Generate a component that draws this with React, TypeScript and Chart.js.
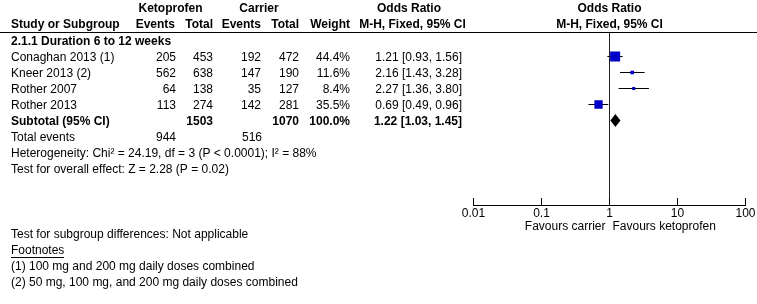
import React, { useEffect, useRef } from "react";
import { Chart, registerables } from "chart.js";

Chart.register(...registerables);

// ---------- data ----------
const groupTitle = "2.1.1 Duration 6 to 12 weeks";
const studies = ["Conaghan 2013 (1)", "Kneer 2013 (2)", "Rother 2007", "Rother 2013"];
const ketoEvents = [205, 562, 64, 113];
const ketoTotal = [453, 638, 138, 274];
const carrierEvents = [192, 147, 35, 142];
const carrierTotal = [472, 190, 127, 281];
const weights = [44.4, 11.6, 8.4, 35.5];
const oddsRatio = [1.21, 2.16, 2.27, 0.69];
const ciLow = [0.93, 1.43, 1.36, 0.49];
const ciHigh = [1.56, 3.28, 3.8, 0.96];

const subtotalKetoTotal = 1503;
const subtotalCarrierTotal = 1070;
const subtotalWeight = 100.0;
const subtotalOR = 1.22;
const subtotalLow = 1.03;
const subtotalHigh = 1.45;
const totalKetoEvents = 944;
const totalCarrierEvents = 516;

const heteroChi2 = "24.19";
const heteroDf = "3";
const heteroP = "< 0.0001";
const heteroI2 = "88";
const overallZ = "2.28";
const overallP = "0.02";

const xTicks = [0.01, 0.1, 1, 10, 100];
const xTickLabels = ["0.01", "0.1", "1", "10", "100"];
const favoursLeft = "Favours carrier";
const favoursRight = "Favours ketoprofen";
const subgroupDiff = "Test for subgroup differences: Not applicable";
const footnotesTitle = "Footnotes";
const footnotes = [
  "(1) 100 mg and 200 mg daily doses combined",
  "(2) 50 mg, 100 mg, and 200 mg daily doses combined",
];

// ---------- layout ----------
const W = 757;
const H = 304;
const Y_MIN = -0.46875;
const Y_MAX = 10.34375;
const FONT = "'Liberation Sans', Arial, Helvetica, sans-serif";
const REG = `12px ${FONT}`;
const BOLD = `bold 12px ${FONT}`;
const BLUE = "#0000c8";

const fmt = (v: number) => v.toFixed(2);
const ciText = (e: number, l: number, h: number) => `${fmt(e)} [${fmt(l)}, ${fmt(h)}]`;
const squareRadius = (w: number) => (1.4 + 0.194 * w) / Math.SQRT2;

const forestPlugin = {
  id: "forestText",
  afterDatasetsDraw(chart: any) {
    const ctx: CanvasRenderingContext2D = chart.ctx;
    const xs = chart.scales.x;
    const ys = chart.scales.y;
    const area = chart.chartArea;
    const x1 = xs.getPixelForValue(1);

    ctx.save();
    ctx.fillStyle = "#000";
    ctx.textBaseline = "middle";

    const text = (s: string, x: number, y: number, align: CanvasTextAlign, bold = false) => {
      ctx.font = bold ? BOLD : REG;
      ctx.textAlign = align;
      ctx.fillText(s, x, y);
    };
    const rowY = (r: number) => ys.getPixelForValue(r) + 1;

    // header line
    ctx.fillRect(0, Math.round(area.top) - 1, W, 1);

    // headers
    text("Ketoprofen", 170.5, 9, "center", true);
    text("Carrier", 259, 9, "center", true);
    text("Odds Ratio", 409, 9, "center", true);
    text("Odds Ratio", x1, 9, "center", true);
    text("Study or Subgroup", 11, 25, "left", true);
    text("Events", 175, 25, "right", true);
    text("Total", 213, 25, "right", true);
    text("Events", 261, 25, "right", true);
    text("Total", 299, 25, "right", true);
    text("Weight", 350, 25, "right", true);
    text("M-H, Fixed, 95% CI", 412.5, 25, "center", true);
    text("M-H, Fixed, 95% CI", x1, 25, "center", true);

    // group title
    text(groupTitle, 11, rowY(0), "left", true);

    // studies
    studies.forEach((s, i) => {
      const y = rowY(i + 1);
      text(s, 11, y, "left");
      text(String(ketoEvents[i]), 176, y, "right");
      text(String(ketoTotal[i]), 213, y, "right");
      text(String(carrierEvents[i]), 261, y, "right");
      text(String(carrierTotal[i]), 299, y, "right");
      text(`${weights[i].toFixed(1)}%`, 350, y, "right");
      text(ciText(oddsRatio[i], ciLow[i], ciHigh[i]), 462, y, "right");
    });

    // subtotal
    const ySub = rowY(5);
    text("Subtotal (95% CI)", 11, ySub, "left", true);
    text(String(subtotalKetoTotal), 213, ySub, "right", true);
    text(String(subtotalCarrierTotal), 299, ySub, "right", true);
    text(`${subtotalWeight.toFixed(1)}%`, 350, ySub, "right", true);
    text(ciText(subtotalOR, subtotalLow, subtotalHigh), 462, ySub, "right", true);

    // totals & stats
    const yTot = rowY(6);
    text("Total events", 11, yTot, "left");
    text(String(totalKetoEvents), 176, yTot, "right");
    text(String(totalCarrierEvents), 262, yTot, "right");
    text(
      `Heterogeneity: Chi\u00b2 = ${heteroChi2}, df = ${heteroDf} (P ${heteroP}); I\u00b2 = ${heteroI2}%`,
      11, rowY(7), "left"
    );
    text(`Test for overall effect: Z = ${overallZ} (P = ${overallP})`, 11, rowY(8), "left");

    // diamond for subtotal
    const yd = ys.getPixelForValue(5);
    ctx.beginPath();
    ctx.moveTo(xs.getPixelForValue(subtotalLow), yd);
    ctx.lineTo(xs.getPixelForValue(subtotalOR), yd - 6.5);
    ctx.lineTo(xs.getPixelForValue(subtotalHigh), yd);
    ctx.lineTo(xs.getPixelForValue(subtotalOR), yd + 6.5);
    ctx.closePath();
    ctx.fill();

    // x axis
    const axY = Math.round(area.bottom) - 1;
    const xa = Math.floor(xs.getPixelForValue(xTicks[0]));
    const xb = Math.floor(xs.getPixelForValue(xTicks[xTicks.length - 1]));
    ctx.fillRect(xa, axY, xb - xa + 1, 1);
    xTicks.forEach((t, i) => {
      const px = xs.getPixelForValue(t);
      ctx.fillRect(Math.floor(px), axY - 7, 1, 8);
      text(xTickLabels[i], px, axY + 9, "center");
    });
    text(favoursLeft, x1 - 4, axY + 22, "right");
    text(favoursRight, x1 + 3, axY + 22, "left");

    // bottom notes
    text(subgroupDiff, 11, 234.5, "left");
    text(footnotesTitle, 11, 250.5, "left");
    ctx.font = REG;
    const fw = ctx.measureText(footnotesTitle).width;
    ctx.fillRect(11, 257, Math.round(fw), 1);
    footnotes.forEach((f, i) => text(f, 11, 266.5 + 16 * i, "left"));

    ctx.restore();
  },
};

export default function App() {
  const ref = useRef<HTMLCanvasElement | null>(null);

  useEffect(() => {
    const canvas = ref.current;
    if (!canvas) return;
    const datasets: any[] = [
      {
        label: "studies",
        data: studies.map((_, i) => ({ x: oddsRatio[i], y: i + 1 })),
        pointStyle: "rect",
        pointRadius: weights.map(squareRadius),
        pointBackgroundColor: BLUE,
        backgroundColor: BLUE,
        pointBorderWidth: 0,
        borderWidth: 0,
        showLine: false,
      },
      ...studies.map((_, i) => ({
        label: `ci${i}`,
        data: [
          { x: ciLow[i], y: i + 1 },
          { x: ciHigh[i], y: i + 1 },
        ],
        showLine: true,
        borderColor: "#000",
        borderWidth: 1,
        pointRadius: 0,
      })),
      {
        label: "null",
        data: [
          { x: 1, y: Y_MIN },
          { x: 1, y: Y_MAX },
        ],
        showLine: true,
        borderColor: "#222",
        borderWidth: 1,
        pointRadius: 0,
      },
    ];
    const chart = new Chart(canvas, {
      type: "scatter",
      data: { datasets },
      options: {
        animation: false,
        responsive: false,
        devicePixelRatio: 1,
        events: [],
        layout: { padding: { left: 473.5, right: 11.5, top: 33, bottom: 98 } },
        scales: {
          x: { type: "logarithmic", min: 0.01, max: 100, display: false },
          y: { type: "linear", min: Y_MIN, max: Y_MAX, reverse: true, display: false },
        },
        plugins: { legend: { display: false }, tooltip: { enabled: false } },
      },
      plugins: [forestPlugin],
    } as any);
    return () => chart.destroy();
  }, []);

  return (
    <div style={{ position: "absolute", left: 0, top: 0, width: W, height: H, background: "#fff" }}>
      <canvas ref={ref} width={W} height={H} style={{ width: W, height: H, display: "block" }} />
    </div>
  );
}
